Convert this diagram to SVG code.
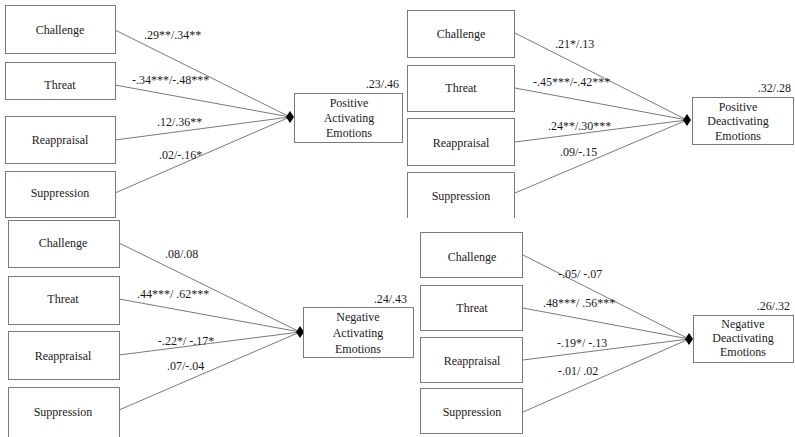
<svg xmlns="http://www.w3.org/2000/svg" width="795" height="437" viewBox="0 0 795 437">
  <style>
    .box { fill: #ffffff; stroke: #7a7a7a; stroke-width: 1; }
    .ctr { text-anchor: middle; }
    .end { text-anchor: end; }
    .path { stroke: #6a6a6a; stroke-width: 0.9; fill: none; }
    .dia { fill: #000000; }
  </style>
  <defs>
    <path id="diamond" d="M-4 0 L0 -6 L4 0 L0 6 Z"/>
  </defs>
  <rect width="795" height="437" fill="#ffffff"/>

  <g font-family="Liberation Serif, serif" font-size="12" fill="#1a1a1a">
  <!-- connectors -->
  <g id="connectors">
    <!-- panel 1: positive activating -->
    <line class="path" x1="115" y1="30" x2="290" y2="117"/>
    <line class="path" x1="115" y1="85" x2="290" y2="117"/>
    <line class="path" x1="115" y1="140" x2="290" y2="117"/>
    <line class="path" x1="115" y1="193" x2="290" y2="117"/>
    <text x="144" y="39">.29**/.34**</text>
    <text x="132" y="84">-.34***/-.48***</text>
    <text x="157" y="126">.12/.36**</text>
    <text x="159" y="159">.02/-.16*</text>
    <use href="#diamond" class="dia" x="290" y="117"/>

    <!-- panel 2: positive deactivating -->
    <line class="path" x1="515" y1="33" x2="687" y2="120"/>
    <line class="path" x1="515" y1="88" x2="687" y2="120"/>
    <line class="path" x1="515" y1="142" x2="687" y2="120"/>
    <line class="path" x1="515" y1="193" x2="687" y2="120"/>
    <text x="555" y="48">.21*/.13</text>
    <text x="533" y="86">-.45***/-.42***</text>
    <text x="548" y="130">.24**/.30***</text>
    <text x="560" y="156">.09/-.15</text>
    <use href="#diamond" class="dia" x="687" y="120"/>

    <!-- panel 3: negative activating -->
    <line class="path" x1="119" y1="243" x2="300" y2="332"/>
    <line class="path" x1="119" y1="299" x2="300" y2="332"/>
    <line class="path" x1="119" y1="355" x2="300" y2="332"/>
    <line class="path" x1="119" y1="410" x2="300" y2="332"/>
    <text x="165" y="258">.08/.08</text>
    <text x="137" y="298">.44***/ .62***</text>
    <text x="158" y="345">-.22*/ -.17*</text>
    <text x="167" y="370">.07/-.04</text>
    <use href="#diamond" class="dia" x="300" y="332"/>

    <!-- panel 4: negative deactivating -->
    <line class="path" x1="523" y1="255" x2="689" y2="339"/>
    <line class="path" x1="523" y1="308" x2="689" y2="339"/>
    <line class="path" x1="523" y1="360" x2="689" y2="339"/>
    <line class="path" x1="523" y1="412" x2="689" y2="339"/>
    <text x="558" y="278">-.05/ -.07</text>
    <text x="543" y="307">.48***/ .56***</text>
    <text x="557" y="347">-.19*/ -.13</text>
    <text x="558" y="375">-.01/ .02</text>
    <use href="#diamond" class="dia" x="689" y="339"/>
  </g>

  <!-- panel 1 nodes -->
  <g id="p1-challenge"><rect class="box" x="5.5" y="5.5" width="110" height="48"/><text class="ctr" x="60" y="34">Challenge</text></g>
  <g id="p1-threat"><rect class="box" x="5.5" y="62.5" width="110" height="37"/><text class="ctr" x="60" y="89">Threat</text></g>
  <g id="p1-reappraisal"><rect class="box" x="5.5" y="116.5" width="110" height="47"/><text class="ctr" x="60" y="144">Reappraisal</text></g>
  <g id="p1-suppression"><rect class="box" x="5.5" y="171.5" width="110" height="46"/><text class="ctr" x="60" y="197">Suppression</text></g>
  <g id="p1-outcome">
    <rect class="box" x="294.5" y="93.5" width="108" height="49"/>
    <text class="ctr" x="349" y="107">Positive</text>
    <text class="ctr" x="349" y="122">Activating</text>
    <text class="ctr" x="349" y="137">Emotions</text>
    <text class="end" x="399" y="88">.23/.46</text>
  </g>

  <!-- panel 2 nodes -->
  <g id="p2-challenge"><rect class="box" x="407.5" y="10.5" width="107" height="47"/><text class="ctr" x="461" y="38">Challenge</text></g>
  <g id="p2-threat"><rect class="box" x="407.5" y="65.5" width="107" height="46"/><text class="ctr" x="461" y="92">Threat</text></g>
  <g id="p2-reappraisal"><rect class="box" x="407.5" y="118.5" width="107" height="47"/><text class="ctr" x="461" y="147">Reappraisal</text></g>
  <g id="p2-suppression"><path class="box" d="M407.5 218 V172.5 H514.5 V218"/><text class="ctr" x="461" y="200">Suppression</text></g>
  <g id="p2-outcome">
    <rect class="box" x="692.5" y="97.5" width="101" height="47"/>
    <text class="ctr" x="738" y="111">Positive</text>
    <text class="ctr" x="738" y="125">Deactivating</text>
    <text class="ctr" x="738" y="140">Emotions</text>
    <text class="end" x="791" y="92">.32/.28</text>
  </g>

  <!-- panel 3 nodes -->
  <g id="p3-challenge"><rect class="box" x="8.5" y="220.5" width="111" height="47"/><text class="ctr" x="63" y="247">Challenge</text></g>
  <g id="p3-threat"><rect class="box" x="8.5" y="276.5" width="111" height="48"/><text class="ctr" x="63" y="303">Threat</text></g>
  <g id="p3-reappraisal"><rect class="box" x="8.5" y="331.5" width="111" height="48"/><text class="ctr" x="63" y="360">Reappraisal</text></g>
  <g id="p3-suppression"><path class="box" d="M8.5 437 V387.5 H119.5 V437"/><text class="ctr" x="63" y="416">Suppression</text></g>
  <g id="p3-outcome">
    <rect class="box" x="303.5" y="307.5" width="110" height="50"/>
    <text class="ctr" x="358" y="321">Negative</text>
    <text class="ctr" x="358" y="337">Activating</text>
    <text class="ctr" x="358" y="353">Emotions</text>
    <text class="end" x="407" y="303">.24/.43</text>
  </g>

  <!-- panel 4 nodes -->
  <g id="p4-challenge"><rect class="box" x="420.5" y="232.5" width="102" height="45"/><text class="ctr" x="472" y="261">Challenge</text></g>
  <g id="p4-threat"><rect class="box" x="420.5" y="285.5" width="102" height="45"/><text class="ctr" x="472" y="312">Threat</text></g>
  <g id="p4-reappraisal"><rect class="box" x="420.5" y="337.5" width="102" height="45"/><text class="ctr" x="472" y="365">Reappraisal</text></g>
  <g id="p4-suppression"><rect class="box" x="420.5" y="388.5" width="102" height="45"/><text class="ctr" x="472" y="416">Suppression</text></g>
  <g id="p4-outcome">
    <rect class="box" x="693.5" y="315.5" width="100" height="47"/>
    <text class="ctr" x="743" y="328">Negative</text>
    <text class="ctr" x="743" y="342">Deactivating</text>
    <text class="ctr" x="743" y="356">Emotions</text>
    <text class="end" x="790" y="310">.26/.32</text>
  </g>
  </g>
</svg>
